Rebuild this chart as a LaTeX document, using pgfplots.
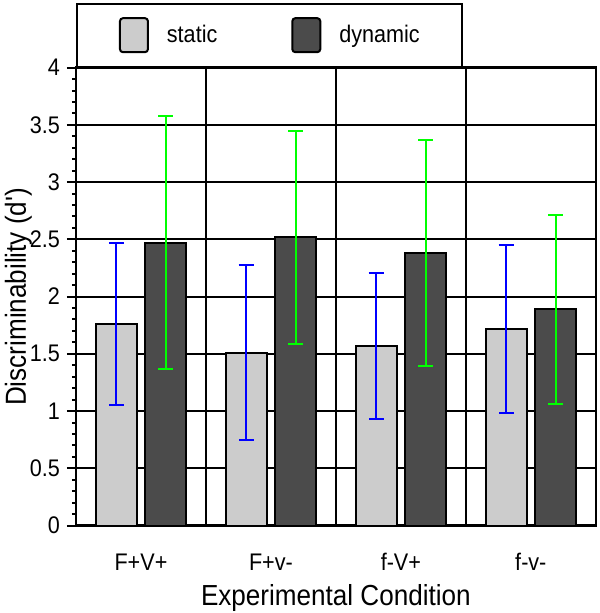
\documentclass[border=0pt]{standalone}
\usepackage{pgfplots}
\pgfplotsset{compat=1.18}
\usepackage{fontspec}
\setmainfont{Liberation Sans}[FakeStretch=0.9]

\definecolor{staticgray}{HTML}{CCCCCC}
\definecolor{dyngray}{HTML}{4B4B4B}
\definecolor{errgreen}{HTML}{00FF00}

\begin{document}
\begin{tikzpicture}
\begin{axis}[
    name=ax,
    scale only axis,
    width=260pt, height=229pt,
    xmin=-0.5, xmax=3.5,
    ymin=0, ymax=4,
    ybar,
    axis line style={line width=1.25pt},
    tick style={black, line width=1pt},
    tick align=outside,
    xtick pos=bottom, ytick pos=left,
    major tick length=4.5pt, minor tick length=2pt,
    xtick={0,1,2,3},
    xticklabels={F+V+,F+v-,f-V+,f-v-},
    xtick style={draw=none},
    extra x ticks={-0.5,0.5,1.5,2.5,3.5},
    extra x tick labels={},
    extra x tick style={major tick length=6pt, xmajorgrids=true, tick style={black, line width=1pt}},
    xticklabel style={yshift=-6pt},
    ytick={0,0.5,...,4},
    minor y tick num=4,
    ymajorgrids,
    major grid style={black, line width=1pt},
    /pgf/number format/assume math mode=true,
    ticklabel style={font=\fontsize{12}{14}\selectfont},
    xlabel={Experimental Condition},
    ylabel={Discriminability (d\textquotesingle)},
    label style={font=\fontsize{14.5}{16}\selectfont},
    xlabel style={at={(axis description cs:0.5,0)}, anchor=north, yshift=-26pt},
    ylabel style={at={(axis description cs:0,0.5)}, anchor=south, yshift=18.5pt},
    legend columns=2,
    legend style={at={(rel axis cs:0,1)}, anchor=south west, draw=black,
        line width=1pt, fill=white, inner xsep=21pt, inner ysep=6.75pt,
        font=\fontsize{12}{14}\selectfont,
        nodes={inner sep=0pt},
        /tikz/every odd column/.append style={column sep=9pt},
        /tikz/every even column/.append style={column sep=37pt}},
    legend image code/.code={\draw[#1, rounded corners=1.5pt] (0pt,-8.5pt) rectangle (14pt,8.5pt);},
    error bars/y dir=both,
    error bars/y explicit,
]
\addplot[bar width=0.315, bar shift=-0.19, fill=staticgray, draw=black, line width=1pt,
    error bars/error bar style={blue, line width=1pt},
    error bars/error mark options={rotate=90, blue, line width=1pt, mark size=3.75pt}]
    coordinates {(0,1.76) +- (0,0.71) (1,1.51) +- (0,0.765) (2,1.57) +- (0,0.64) (3,1.72) +- (0,0.735)};
\addlegendentry{static}
\addplot[bar width=0.315, bar shift=0.19, fill=dyngray, draw=black, line width=1pt,
    error bars/error bar style={errgreen, line width=1pt},
    error bars/error mark options={rotate=90, errgreen, line width=1pt, mark size=3.75pt}]
    coordinates {(0,2.47) +- (0,1.105) (1,2.52) +- (0,0.93) (2,2.38) +- (0,0.985) (3,1.89) +- (0,0.825)};
\addlegendentry{dynamic}
\end{axis}
\pgfresetboundingbox
\path ([shift={(-38pt,-43.75pt)}]ax.south west) rectangle ([shift={(1.75pt,33.85pt)}]ax.north east);
\end{tikzpicture}
\end{document}
